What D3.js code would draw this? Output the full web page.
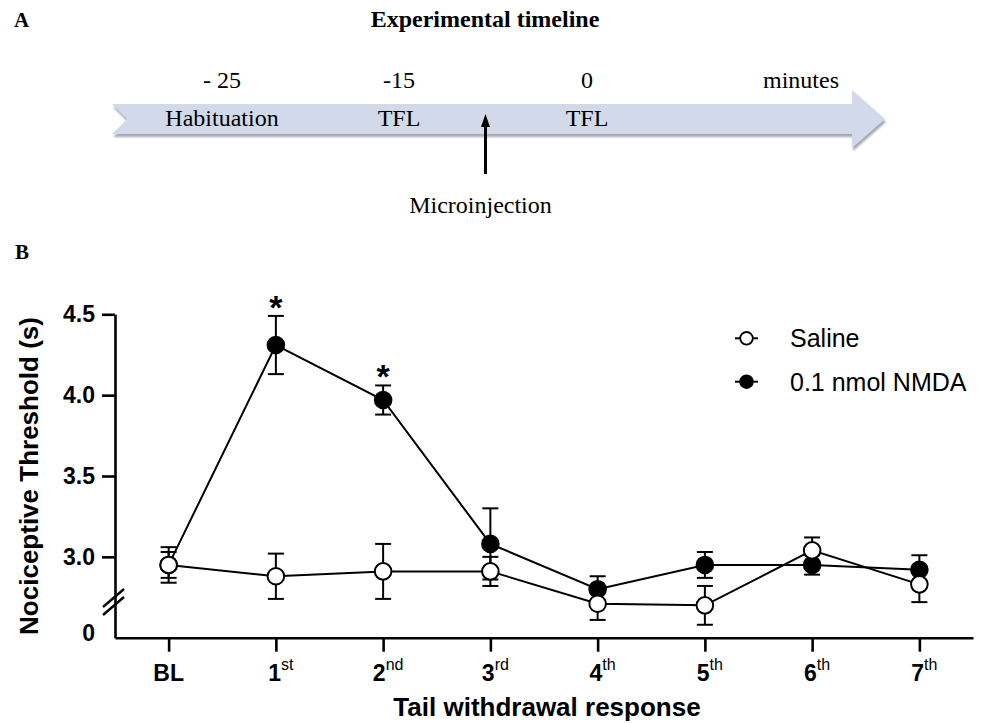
<!DOCTYPE html>
<html>
<head>
<meta charset="utf-8">
<script src="https://cdn.jsdelivr.net/npm/d3@7"></script>
<style>
  html, body { margin: 0; padding: 0; background: #fff; }
  svg { display: block; }
</style>
</head>
<body>
<div id="chart"></div>
<script>
// ---------- DATA ----------
// Panel A: timeline
const timelineTitle = "Experimental timeline";
const timelineTimes = ["- 25", "-15", "0", "minutes"];
const timelineEvents = ["Habituation", "TFL", "TFL"];
const injectionLabel = "Microinjection";
const injectionSlot = 1.46; // between -15 and 0 min slots

// Panel B: tail withdrawal
const categories = ["BL", "1", "2", "3", "4", "5", "6", "7"];
const superscripts = ["", "st", "nd", "rd", "th", "th", "th", "th"];
const seriesNames = ["Saline", "0.1 nmol NMDA"];
const salineMean = [2.95, 2.88, 2.91, 2.91, 2.71, 2.70, 3.04, 2.83];
const salineErr  = [0.11, 0.14, 0.17, 0.09, 0.10, 0.12, 0.08, 0.11];
const nmdaMean   = [2.95, 4.31, 3.97, 3.08, 2.80, 2.95, 2.95, 2.92];
const nmdaErr    = [0.08, 0.18, 0.09, 0.22, 0.08, 0.08, 0.06, 0.09];
const nmdaSignificant = [false, true, true, false, false, false, false, false];
const yTicks = [3.0, 3.5, 4.0, 4.5];
const yBreakLabel = "0";
const yTitle = "Nociceptive Threshold (s)";
const xTitle = "Tail withdrawal response";

// ---------- SETUP ----------
const W = 984, H = 723;
const sans = "'Liberation Sans', Arial, Helvetica, sans-serif";
const serif = "'Liberation Serif', 'Times New Roman', Times, serif";

const svg = d3.select("#chart").append("svg")
  .attr("width", W).attr("height", H)
  .attr("viewBox", `0 0 ${W} ${H}`);

const defs = svg.append("defs");
defs.append("filter").attr("id", "blur").attr("x", "-5%").attr("y", "-20%")
  .attr("width", "110%").attr("height", "160%")
  .append("feGaussianBlur").attr("stdDeviation", 1.2);

// ---------- PANEL A ----------
svg.append("text").attr("x", 14).attr("y", 27)
  .attr("font-family", serif).attr("font-weight", "bold").attr("font-size", 21)
  .text("A");
svg.append("text").attr("x", 485).attr("y", 27).attr("text-anchor", "middle")
  .attr("font-family", serif).attr("font-weight", "bold").attr("font-size", 24)
  .text(timelineTitle);

const slotX = d3.scaleLinear().domain([0, 1, 2, 3]).range([222, 399, 587, 801]);

const arrowPath = d3.path();
arrowPath.moveTo(112, 104);
arrowPath.lineTo(852, 104);
arrowPath.lineTo(852, 90);
arrowPath.lineTo(885, 119);
arrowPath.lineTo(852, 148);
arrowPath.lineTo(852, 134);
arrowPath.lineTo(112, 134);
arrowPath.lineTo(127, 119);
arrowPath.closePath();

svg.append("path").attr("d", arrowPath.toString())
  .attr("transform", "translate(1,3)")
  .attr("fill", "#a4a8b0").attr("filter", "url(#blur)");
svg.append("path").attr("d", arrowPath.toString()).attr("fill", "#d2daea");

svg.append("g").selectAll("text").data(timelineTimes).join("text")
  .attr("x", (d, i) => slotX(i)).attr("y", 88)
  .attr("text-anchor", "middle")
  .attr("font-family", serif).attr("font-size", 24)
  .text(d => d);

svg.append("g").selectAll("text").data(timelineEvents).join("text")
  .attr("x", (d, i) => slotX(i)).attr("y", 126)
  .attr("text-anchor", "middle")
  .attr("font-family", serif).attr("font-size", 24)
  .text(d => d);

const injX = slotX(injectionSlot);
svg.append("line").attr("x1", injX).attr("x2", injX).attr("y1", 174).attr("y2", 124)
  .attr("stroke", "#000").attr("stroke-width", 3);
svg.append("path")
  .attr("d", `M${injX},114 L${injX - 4.5},127 L${injX + 4.5},127 Z`)
  .attr("fill", "#000");
svg.append("text").attr("x", injX - 5).attr("y", 213).attr("text-anchor", "middle")
  .attr("font-family", serif).attr("font-size", 24)
  .text(injectionLabel);

// ---------- PANEL B ----------
svg.append("text").attr("x", 15).attr("y", 259)
  .attr("font-family", serif).attr("font-weight", "bold").attr("font-size", 21)
  .text("B");

const x = d3.scalePoint().domain(categories).range([115, 973]).padding(0.5);
const y = d3.scaleLinear().domain([2.5, 4.5]).range([637.7, 314.3]);

// axes
const yAxis = svg.append("g").attr("transform", "translate(115,0)")
  .call(d3.axisLeft(y).tickValues(yTicks).tickFormat(d3.format(".1f"))
    .tickSize(13).tickPadding(7).tickSizeOuter(0));
yAxis.select(".domain").attr("stroke-width", 2.6);
yAxis.selectAll(".tick line").attr("stroke-width", 2.6);
yAxis.selectAll(".tick text").attr("font-family", sans).attr("font-weight", "bold")
  .attr("font-size", 23).attr("fill", "#000");

const xAxis = svg.append("g").attr("transform", `translate(0,${y(2.5)})`)
  .call(d3.axisBottom(x).tickSize(14).tickSizeOuter(0).tickFormat(""));
xAxis.select(".domain").attr("stroke-width", 2.6);
xAxis.selectAll(".tick line").attr("stroke-width", 2.6);

// x tick labels with superscripts
const xl = svg.append("g").selectAll("text").data(categories).join("text")
  .attr("x", d => x(d) + (superscripts[categories.indexOf(d)] ? 5 : 0))
  .attr("y", 681)
  .attr("text-anchor", "middle")
  .attr("font-family", sans).attr("font-size", 23).attr("fill", "#000");
xl.append("tspan").attr("font-weight", "bold").text(d => d);
xl.append("tspan").attr("font-size", 16).attr("dy", -11)
  .text((d, i) => superscripts[i]);

// y "0" label and break marks
svg.append("text").attr("x", 95).attr("y", 641).attr("text-anchor", "end")
  .attr("font-family", sans).attr("font-weight", "bold").attr("font-size", 23)
  .text(yBreakLabel);
[598, 606].forEach(cy => {
  svg.append("line").attr("x1", 103).attr("y1", cy + 9).attr("x2", 124).attr("y2", cy - 9)
    .attr("stroke", "#000").attr("stroke-width", 2.4);
});

// axis titles
svg.append("text").attr("transform", "translate(38,476) rotate(-90)")
  .attr("text-anchor", "middle")
  .attr("font-family", sans).attr("font-weight", "bold").attr("font-size", 26)
  .text(yTitle);
svg.append("text").attr("x", 547).attr("y", 716).attr("text-anchor", "middle")
  .attr("font-family", sans).attr("font-weight", "bold").attr("font-size", 26)
  .text(xTitle);

// series
const series = [
  { name: seriesNames[0], mean: salineMean, err: salineErr, fill: "#fff" },
  { name: seriesNames[1], mean: nmdaMean, err: nmdaErr, fill: "#000" }
];
const capW = 8;
const plot = svg.append("g");

// error bars
series.forEach(s => {
  const g = plot.append("g").attr("stroke", "#000").attr("stroke-width", 2);
  categories.forEach((c, i) => {
    const cx = x(c), top = y(s.mean[i] + s.err[i]), bot = y(s.mean[i] - s.err[i]);
    g.append("line").attr("x1", cx).attr("x2", cx).attr("y1", top).attr("y2", bot);
    g.append("line").attr("x1", cx - capW).attr("x2", cx + capW).attr("y1", top).attr("y2", top);
    g.append("line").attr("x1", cx - capW).attr("x2", cx + capW).attr("y1", bot).attr("y2", bot);
  });
});

// lines
const line = d3.line().x((d, i) => x(categories[i])).y(d => y(d));
[series[1], series[0]].forEach(s => {
  plot.append("path").attr("d", line(s.mean))
    .attr("fill", "none").attr("stroke", "#000").attr("stroke-width", 2);
});

// markers (NMDA first, saline on top)
[series[1], series[0]].forEach(s => {
  plot.append("g").selectAll("circle").data(s.mean).join("circle")
    .attr("cx", (d, i) => x(categories[i])).attr("cy", d => y(d))
    .attr("r", 8.3)
    .attr("fill", s.fill).attr("stroke", "#000").attr("stroke-width", 2);
});

// significance asterisks
plot.append("g").selectAll("text")
  .data(categories.filter((c, i) => nmdaSignificant[i]))
  .join("text")
  .attr("x", d => x(d))
  .attr("y", d => { const i = categories.indexOf(d); return y(nmdaMean[i] + nmdaErr[i]) + 3; })
  .attr("text-anchor", "middle")
  .attr("font-family", sans).attr("font-weight", "bold").attr("font-size", 34)
  .text("*");

// legend
const legend = svg.append("g");
series.forEach((s, i) => {
  const ly = 338.3 + i * 43.4;
  legend.append("line").attr("x1", 735).attr("x2", 758).attr("y1", ly).attr("y2", ly)
    .attr("stroke", "#000").attr("stroke-width", 2);
  legend.append("circle").attr("cx", 746.5).attr("cy", ly).attr("r", 6.3)
    .attr("fill", s.fill).attr("stroke", "#000").attr("stroke-width", 1.8);
  legend.append("text").attr("x", 790).attr("y", ly + 9)
    .attr("font-family", sans).attr("font-size", 25).attr("fill", "#000")
    .text(s.name);
});
</script>
</body>
</html>
